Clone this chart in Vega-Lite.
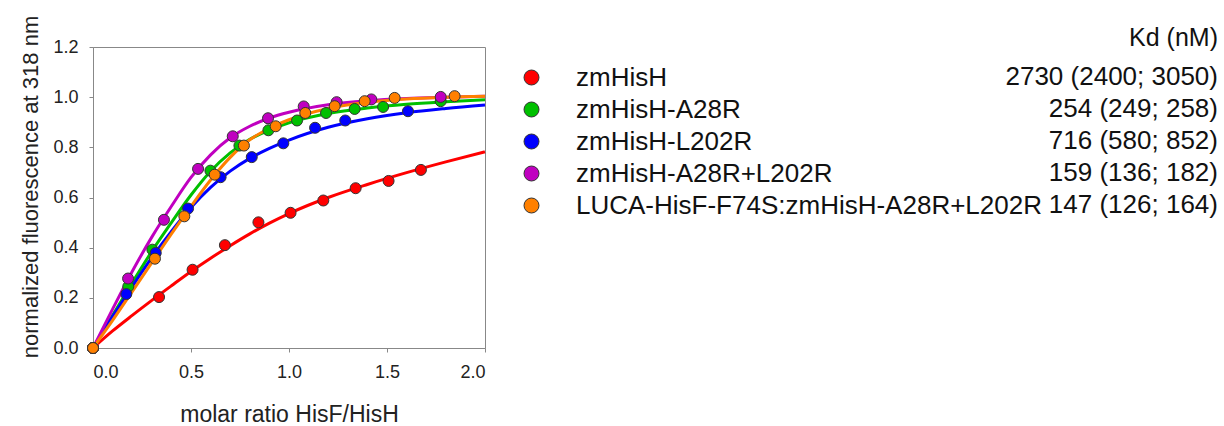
{
  "$schema": "https://vega.github.io/schema/vega-lite/v6.json",
  "autosize": {"type": "none"},
  "padding": {"left": 93, "top": 47, "right": 739, "bottom": 78},
  "width": 392,
  "height": 301,
  "background": "white",
  "datasets": {
    "curves": [
      {"series": "zmHisH", "x": 0, "y": 0},
      {"series": "zmHisH", "x": 0.1, "y": 0.068},
      {"series": "zmHisH", "x": 0.2, "y": 0.13},
      {"series": "zmHisH", "x": 0.3, "y": 0.19},
      {"series": "zmHisH", "x": 0.4, "y": 0.248},
      {"series": "zmHisH", "x": 0.5, "y": 0.305},
      {"series": "zmHisH", "x": 0.6, "y": 0.358},
      {"series": "zmHisH", "x": 0.7, "y": 0.408},
      {"series": "zmHisH", "x": 0.8, "y": 0.455},
      {"series": "zmHisH", "x": 0.9, "y": 0.498},
      {"series": "zmHisH", "x": 1.0, "y": 0.536},
      {"series": "zmHisH", "x": 1.2, "y": 0.6},
      {"series": "zmHisH", "x": 1.4, "y": 0.652},
      {"series": "zmHisH", "x": 1.6, "y": 0.699},
      {"series": "zmHisH", "x": 1.8, "y": 0.742},
      {"series": "zmHisH", "x": 2.0, "y": 0.782},
      {"series": "zmHisH-A28R", "x": 0, "y": 0},
      {"series": "zmHisH-A28R", "x": 0.1, "y": 0.13},
      {"series": "zmHisH-A28R", "x": 0.2, "y": 0.26},
      {"series": "zmHisH-A28R", "x": 0.3, "y": 0.385},
      {"series": "zmHisH-A28R", "x": 0.4, "y": 0.5},
      {"series": "zmHisH-A28R", "x": 0.5, "y": 0.61},
      {"series": "zmHisH-A28R", "x": 0.6, "y": 0.705},
      {"series": "zmHisH-A28R", "x": 0.7, "y": 0.778},
      {"series": "zmHisH-A28R", "x": 0.8, "y": 0.832},
      {"series": "zmHisH-A28R", "x": 0.9, "y": 0.869},
      {"series": "zmHisH-A28R", "x": 1.0, "y": 0.898},
      {"series": "zmHisH-A28R", "x": 1.2, "y": 0.935},
      {"series": "zmHisH-A28R", "x": 1.4, "y": 0.957},
      {"series": "zmHisH-A28R", "x": 1.6, "y": 0.972},
      {"series": "zmHisH-A28R", "x": 1.8, "y": 0.982},
      {"series": "zmHisH-A28R", "x": 2.0, "y": 0.99},
      {"series": "zmHisH-L202R", "x": 0, "y": 0},
      {"series": "zmHisH-L202R", "x": 0.1, "y": 0.125},
      {"series": "zmHisH-L202R", "x": 0.2, "y": 0.245},
      {"series": "zmHisH-L202R", "x": 0.3, "y": 0.36},
      {"series": "zmHisH-L202R", "x": 0.4, "y": 0.465},
      {"series": "zmHisH-L202R", "x": 0.5, "y": 0.56},
      {"series": "zmHisH-L202R", "x": 0.6, "y": 0.64},
      {"series": "zmHisH-L202R", "x": 0.7, "y": 0.705},
      {"series": "zmHisH-L202R", "x": 0.8, "y": 0.756},
      {"series": "zmHisH-L202R", "x": 0.9, "y": 0.796},
      {"series": "zmHisH-L202R", "x": 1.0, "y": 0.829},
      {"series": "zmHisH-L202R", "x": 1.2, "y": 0.88},
      {"series": "zmHisH-L202R", "x": 1.4, "y": 0.914},
      {"series": "zmHisH-L202R", "x": 1.6, "y": 0.938},
      {"series": "zmHisH-L202R", "x": 1.8, "y": 0.955},
      {"series": "zmHisH-L202R", "x": 2.0, "y": 0.969},
      {"series": "zmHisH-A28R+L202R", "x": 0, "y": 0},
      {"series": "zmHisH-A28R+L202R", "x": 0.1, "y": 0.155},
      {"series": "zmHisH-A28R+L202R", "x": 0.2, "y": 0.305},
      {"series": "zmHisH-A28R+L202R", "x": 0.3, "y": 0.442},
      {"series": "zmHisH-A28R+L202R", "x": 0.4, "y": 0.565},
      {"series": "zmHisH-A28R+L202R", "x": 0.5, "y": 0.68},
      {"series": "zmHisH-A28R+L202R", "x": 0.6, "y": 0.77},
      {"series": "zmHisH-A28R+L202R", "x": 0.7, "y": 0.838},
      {"series": "zmHisH-A28R+L202R", "x": 0.8, "y": 0.884},
      {"series": "zmHisH-A28R+L202R", "x": 0.9, "y": 0.917},
      {"series": "zmHisH-A28R+L202R", "x": 1.0, "y": 0.94},
      {"series": "zmHisH-A28R+L202R", "x": 1.2, "y": 0.97},
      {"series": "zmHisH-A28R+L202R", "x": 1.4, "y": 0.986},
      {"series": "zmHisH-A28R+L202R", "x": 1.6, "y": 0.995},
      {"series": "zmHisH-A28R+L202R", "x": 1.8, "y": 1.0},
      {"series": "zmHisH-A28R+L202R", "x": 2.0, "y": 1.004},
      {"series": "LUCA-HisF-F74S:zmHisH-A28R+L202R", "x": 0, "y": 0},
      {"series": "LUCA-HisF-F74S:zmHisH-A28R+L202R", "x": 0.1, "y": 0.11},
      {"series": "LUCA-HisF-F74S:zmHisH-A28R+L202R", "x": 0.2, "y": 0.225},
      {"series": "LUCA-HisF-F74S:zmHisH-A28R+L202R", "x": 0.3, "y": 0.34},
      {"series": "LUCA-HisF-F74S:zmHisH-A28R+L202R", "x": 0.4, "y": 0.455},
      {"series": "LUCA-HisF-F74S:zmHisH-A28R+L202R", "x": 0.5, "y": 0.565},
      {"series": "LUCA-HisF-F74S:zmHisH-A28R+L202R", "x": 0.6, "y": 0.67},
      {"series": "LUCA-HisF-F74S:zmHisH-A28R+L202R", "x": 0.7, "y": 0.76},
      {"series": "LUCA-HisF-F74S:zmHisH-A28R+L202R", "x": 0.8, "y": 0.83},
      {"series": "LUCA-HisF-F74S:zmHisH-A28R+L202R", "x": 0.9, "y": 0.876},
      {"series": "LUCA-HisF-F74S:zmHisH-A28R+L202R", "x": 1.0, "y": 0.91},
      {"series": "LUCA-HisF-F74S:zmHisH-A28R+L202R", "x": 1.2, "y": 0.955},
      {"series": "LUCA-HisF-F74S:zmHisH-A28R+L202R", "x": 1.4, "y": 0.98},
      {"series": "LUCA-HisF-F74S:zmHisH-A28R+L202R", "x": 1.6, "y": 0.993},
      {"series": "LUCA-HisF-F74S:zmHisH-A28R+L202R", "x": 1.8, "y": 1.0},
      {"series": "LUCA-HisF-F74S:zmHisH-A28R+L202R", "x": 2.0, "y": 1.004}
    ],
    "points": [
      {"series": "zmHisH", "kd": "2730 (2400; 3050)", "x": 0, "y": 0},
      {"series": "zmHisH", "kd": "2730 (2400; 3050)", "x": 0.337, "y": 0.203},
      {"series": "zmHisH", "kd": "2730 (2400; 3050)", "x": 0.508, "y": 0.312},
      {"series": "zmHisH", "kd": "2730 (2400; 3050)", "x": 0.673, "y": 0.41},
      {"series": "zmHisH", "kd": "2730 (2400; 3050)", "x": 0.844, "y": 0.501},
      {"series": "zmHisH", "kd": "2730 (2400; 3050)", "x": 1.008, "y": 0.539},
      {"series": "zmHisH", "kd": "2730 (2400; 3050)", "x": 1.175, "y": 0.588},
      {"series": "zmHisH", "kd": "2730 (2400; 3050)", "x": 1.34, "y": 0.637},
      {"series": "zmHisH", "kd": "2730 (2400; 3050)", "x": 1.508, "y": 0.666},
      {"series": "zmHisH", "kd": "2730 (2400; 3050)", "x": 1.673, "y": 0.71},
      {"series": "zmHisH-A28R", "kd": "254 (249; 258)", "x": 0, "y": 0},
      {"series": "zmHisH-A28R", "kd": "254 (249; 258)", "x": 0.18, "y": 0.245},
      {"series": "zmHisH-A28R", "kd": "254 (249; 258)", "x": 0.303, "y": 0.392},
      {"series": "zmHisH-A28R", "kd": "254 (249; 258)", "x": 0.599, "y": 0.707},
      {"series": "zmHisH-A28R", "kd": "254 (249; 258)", "x": 0.747, "y": 0.807},
      {"series": "zmHisH-A28R", "kd": "254 (249; 258)", "x": 0.895, "y": 0.868},
      {"series": "zmHisH-A28R", "kd": "254 (249; 258)", "x": 1.041, "y": 0.907},
      {"series": "zmHisH-A28R", "kd": "254 (249; 258)", "x": 1.189, "y": 0.937},
      {"series": "zmHisH-A28R", "kd": "254 (249; 258)", "x": 1.335, "y": 0.953},
      {"series": "zmHisH-A28R", "kd": "254 (249; 258)", "x": 1.48, "y": 0.961},
      {"series": "zmHisH-A28R", "kd": "254 (249; 258)", "x": 1.774, "y": 0.984},
      {"series": "zmHisH-L202R", "kd": "716 (580; 852)", "x": 0, "y": 0},
      {"series": "zmHisH-L202R", "kd": "716 (580; 852)", "x": 0.17, "y": 0.215},
      {"series": "zmHisH-L202R", "kd": "716 (580; 852)", "x": 0.32, "y": 0.379},
      {"series": "zmHisH-L202R", "kd": "716 (580; 852)", "x": 0.485, "y": 0.556},
      {"series": "zmHisH-L202R", "kd": "716 (580; 852)", "x": 0.651, "y": 0.681},
      {"series": "zmHisH-L202R", "kd": "716 (580; 852)", "x": 0.81, "y": 0.761},
      {"series": "zmHisH-L202R", "kd": "716 (580; 852)", "x": 0.971, "y": 0.816},
      {"series": "zmHisH-L202R", "kd": "716 (580; 852)", "x": 1.133, "y": 0.878},
      {"series": "zmHisH-L202R", "kd": "716 (580; 852)", "x": 1.287, "y": 0.907},
      {"series": "zmHisH-L202R", "kd": "716 (580; 852)", "x": 1.607, "y": 0.944},
      {"series": "zmHisH-A28R+L202R", "kd": "159 (136; 182)", "x": 0, "y": 0},
      {"series": "zmHisH-A28R+L202R", "kd": "159 (136; 182)", "x": 0.179, "y": 0.277},
      {"series": "zmHisH-A28R+L202R", "kd": "159 (136; 182)", "x": 0.362, "y": 0.511},
      {"series": "zmHisH-A28R+L202R", "kd": "159 (136; 182)", "x": 0.536, "y": 0.714},
      {"series": "zmHisH-A28R+L202R", "kd": "159 (136; 182)", "x": 0.713, "y": 0.844},
      {"series": "zmHisH-A28R+L202R", "kd": "159 (136; 182)", "x": 0.893, "y": 0.916},
      {"series": "zmHisH-A28R+L202R", "kd": "159 (136; 182)", "x": 1.075, "y": 0.963},
      {"series": "zmHisH-A28R+L202R", "kd": "159 (136; 182)", "x": 1.243, "y": 0.98},
      {"series": "zmHisH-A28R+L202R", "kd": "159 (136; 182)", "x": 1.42, "y": 0.991},
      {"series": "zmHisH-A28R+L202R", "kd": "159 (136; 182)", "x": 1.774, "y": 1.001},
      {"series": "LUCA-HisF-F74S:zmHisH-A28R+L202R", "kd": "147 (126; 164)", "x": 0, "y": 0},
      {"series": "LUCA-HisF-F74S:zmHisH-A28R+L202R", "kd": "147 (126; 164)", "x": 0.316, "y": 0.356},
      {"series": "LUCA-HisF-F74S:zmHisH-A28R+L202R", "kd": "147 (126; 164)", "x": 0.466, "y": 0.525},
      {"series": "LUCA-HisF-F74S:zmHisH-A28R+L202R", "kd": "147 (126; 164)", "x": 0.621, "y": 0.691},
      {"series": "LUCA-HisF-F74S:zmHisH-A28R+L202R", "kd": "147 (126; 164)", "x": 0.77, "y": 0.807},
      {"series": "LUCA-HisF-F74S:zmHisH-A28R+L202R", "kd": "147 (126; 164)", "x": 0.932, "y": 0.884},
      {"series": "LUCA-HisF-F74S:zmHisH-A28R+L202R", "kd": "147 (126; 164)", "x": 1.083, "y": 0.937},
      {"series": "LUCA-HisF-F74S:zmHisH-A28R+L202R", "kd": "147 (126; 164)", "x": 1.233, "y": 0.964},
      {"series": "LUCA-HisF-F74S:zmHisH-A28R+L202R", "kd": "147 (126; 164)", "x": 1.386, "y": 0.984},
      {"series": "LUCA-HisF-F74S:zmHisH-A28R+L202R", "kd": "147 (126; 164)", "x": 1.539, "y": 0.997},
      {"series": "LUCA-HisF-F74S:zmHisH-A28R+L202R", "kd": "147 (126; 164)", "x": 1.845, "y": 1.004}
    ]
  },
  "layer": [
    {
      "data": {"name": "points"},
      "mark": {"type": "point", "filled": true, "size": 100, "opacity": 0},
      "encoding": {
        "x": {"field": "x", "type": "quantitative"},
        "y": {"field": "y", "type": "quantitative"},
        "shape": {
          "field": "kd", "type": "nominal",
          "scale": {
            "domain": ["2730 (2400; 3050)", "254 (249; 258)", "716 (580; 852)", "159 (136; 182)", "147 (126; 164)"],
            "range": ["square", "square", "square", "square", "square"]
          },
          "legend": {
            "orient": "none", "legendX": 807, "legendY": -21, "title": "Kd (nM)",
            "titleFontSize": 25, "titleFontWeight": "normal", "titleColor": "#111111", "titleAnchor": "end", "titlePadding": 13,
            "symbolSize": 0, "symbolOpacity": 0, "symbolStrokeWidth": 0,
            "labelAlign": "right", "labelOffset": 292, "labelFontSize": 26, "labelColor": "#111111", "labelLimit": 700, "rowPadding": 6, "padding": 0
          }
        }
      }
    },
    {
      "data": {"name": "curves"},
      "mark": {"type": "line", "strokeWidth": 3, "interpolate": "monotone"},
      "encoding": {
        "x": {"field": "x", "type": "quantitative"},
        "y": {"field": "y", "type": "quantitative"},
        "detail": {"field": "series", "type": "nominal"},
        "stroke": {
          "field": "series", "type": "nominal", "legend": null,
          "scale": {
            "domain": ["zmHisH", "zmHisH-A28R", "zmHisH-L202R", "zmHisH-A28R+L202R", "LUCA-HisF-F74S:zmHisH-A28R+L202R"],
            "range": ["#ff0000", "#00c000", "#0000ff", "#c000c0", "#ff8000"]
          }
        }
      }
    },
    {
      "data": {"name": "points"},
      "mark": {"type": "circle", "size": 121, "stroke": "#333333", "strokeWidth": 1, "opacity": 1},
      "encoding": {
        "x": {
          "field": "x", "type": "quantitative",
          "scale": {"domain": [0, 2], "nice": false, "zero": false},
          "axis": {"values": [0, 0.5, 1, 1.5, 2], "format": ".1f", "title": "molar ratio HisF/HisH", "titlePadding": 22, "titleFontSize": 23}
        },
        "y": {
          "field": "y", "type": "quantitative",
          "scale": {"domain": [0, 1.2], "nice": false},
          "axis": {"values": [0, 0.2, 0.4, 0.6, 0.8, 1.0, 1.2], "format": ".1f", "title": "normalized fluorescence at 318 nm", "titlePadding": 10, "titleY": 139.5}
        },
        "fill": {
          "field": "series", "type": "nominal",
          "scale": {
            "domain": ["zmHisH", "zmHisH-A28R", "zmHisH-L202R", "zmHisH-A28R+L202R", "LUCA-HisF-F74S:zmHisH-A28R+L202R"],
            "range": ["#ff0000", "#00c000", "#0000ff", "#c000c0", "#ff8000"]
          },
          "legend": {
            "orient": "none", "legendX": 425.5, "legendY": 17.5, "title": null,
            "symbolType": "circle", "symbolSize": 225, "symbolStrokeColor": "#333333", "symbolStrokeWidth": 1, "symbolOpacity": 1,
            "labelFontSize": 26, "labelColor": "#111111", "labelOffset": 31.5, "labelLimit": 700, "rowPadding": 6, "padding": 0
          }
        }
      }
    }
  ],
  "resolve": {"legend": {"shape": "independent", "fill": "independent"}},
  "config": {
    "font": "Liberation Sans",
    "view": {"stroke": "#888888", "strokeWidth": 1},
    "axis": {
      "grid": false, "domainColor": "#888888", "tickColor": "#888888", "tickSize": 4,
      "labelFont": "Liberation Sans", "labelFontSize": 18, "labelColor": "#222222", "labelPadding": 11,
      "titleFont": "Liberation Sans", "titleFontSize": 22, "titleFontWeight": "normal", "titleColor": "#222222"
    },
    "legend": {"labelFont": "Liberation Sans", "titleFont": "Liberation Sans"}
  }
}
